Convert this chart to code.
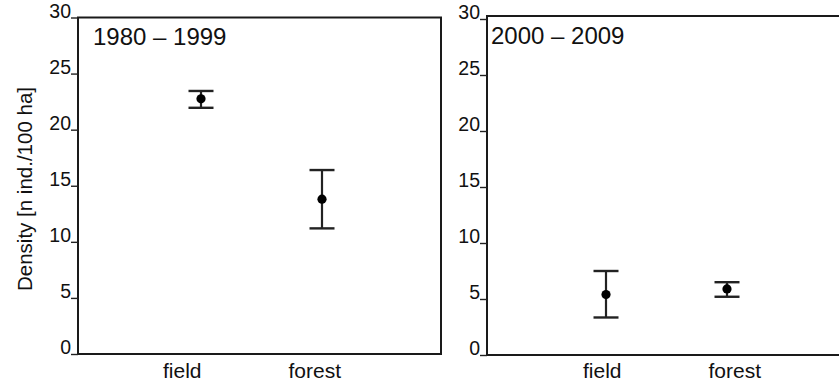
<!DOCTYPE html>
<html>
<head>
<meta charset="utf-8">
<script src="https://cdn.jsdelivr.net/npm/d3@7"></script>
<style>
  body { margin: 0; background: #fff; }
  text { font-family: "Liberation Sans", Arial, sans-serif; fill: #111; }
</style>
</head>
<body>
<div id="chart"></div>
<script>
// data
var categories = ["field", "forest"];
var periods = ["1980 \u2013 1999", "2000 \u2013 2009"];
var yTicks = [0, 5, 10, 15, 20, 25, 30];

// mean, upper and lower ends of the error bars, per period
var means1980 = [22.75, 13.8];
var upper1980 = [23.45, 16.4];
var lower1980 = [21.95, 11.2];

var means2000 = [5.4, 5.9];
var upper2000 = [7.5, 6.5];
var lower2000 = [3.35, 5.2];

var width = 839;
var height = 383;
var capHalf = 12.5;

// panel layout
var panels = [
  { title: periods[0], means: means1980, upper: upper1980, lower: lower1980,
    left: 78, right: 441, bottom: 354, top: 17.5, frameTop: 17.5,
    titleDx: 15, titleY: 45, barShift: 2, labelShift: -11, yLabel: true },
  { title: periods[1], means: means2000, upper: upper2000, lower: lower2000,
    left: 487, right: 850, bottom: 355, top: 19, frameTop: 16,
    titleDx: 4, titleY: 44, barShift: -2, labelShift: 0, yLabel: false }
];

var svg = d3
  .select("#chart")
  .append("svg")
  .attr("width", width)
  .attr("height", height);

panels.forEach(function(p) {
  var g = svg.append("g");

  var y_scale = d3
    .scaleLinear()
    .domain([0, 30])
    .range([p.bottom, p.top]);

  var x_scale = d3
    .scalePoint()
    .domain(categories)
    .range([p.left + p.barShift, p.right + p.barShift])
    .padding(1);

  var label_scale = d3
    .scalePoint()
    .domain(categories)
    .range([p.left + p.labelShift, p.right + p.labelShift])
    .padding(0.87);

  // frame
  g.append("rect")
    .attr("x", p.left)
    .attr("y", p.frameTop)
    .attr("width", p.right - p.left)
    .attr("height", p.bottom - p.frameTop)
    .attr("fill", "none")
    .attr("stroke", "#1a1a1a")
    .attr("stroke-width", 2);

  // y axis
  var y_axis = d3
    .axisLeft(y_scale)
    .tickValues(yTicks)
    .tickSize(7)
    .tickPadding(0);
  var ax = g
    .append("g")
    .attr("transform", "translate(" + p.left + ",0)")
    .call(y_axis);
  ax.select(".domain").remove();
  ax.selectAll(".tick line").attr("stroke", "#222").attr("stroke-width", 1.4);
  ax.selectAll(".tick text")
    .attr("dy", "-0.02em")
    .style("font-size", "19.5px")
    .style("font-family", "'Liberation Sans', Arial, sans-serif")
    .attr("fill", "#111");

  // category labels
  g.selectAll(".cat")
    .data(categories)
    .enter()
    .append("text")
    .attr("class", "cat")
    .attr("x", function(d) { return label_scale(d); })
    .attr("y", 378)
    .attr("text-anchor", "middle")
    .style("font-size", "21px")
    .text(function(d) { return d; });

  // period title
  g.append("text")
    .attr("x", p.left + p.titleDx)
    .attr("y", p.titleY)
    .style("font-size", "24px")
    .text(p.title);

  // error bars
  var bars = g
    .selectAll(".err")
    .data(categories)
    .enter()
    .append("g")
    .attr("class", "err");

  bars.append("line")
    .attr("x1", function(d) { return x_scale(d); })
    .attr("x2", function(d) { return x_scale(d); })
    .attr("y1", function(d, i) { return y_scale(p.upper[i]); })
    .attr("y2", function(d, i) { return y_scale(p.lower[i]); })
    .attr("stroke", "#222")
    .attr("stroke-width", 2.2);

  [p.upper, p.lower].forEach(function(arr) {
    bars.append("line")
      .attr("x1", function(d) { return x_scale(d) - capHalf; })
      .attr("x2", function(d) { return x_scale(d) + capHalf; })
      .attr("y1", function(d, i) { return y_scale(arr[i]); })
      .attr("y2", function(d, i) { return y_scale(arr[i]); })
      .attr("stroke", "#222")
      .attr("stroke-width", 2.4);
  });

  bars.append("circle")
    .attr("cx", function(d) { return x_scale(d); })
    .attr("cy", function(d, i) { return y_scale(p.means[i]); })
    .attr("r", 4.6)
    .attr("fill", "#000");

  if (p.yLabel) {
    svg.append("text")
      .attr("transform", "translate(32," + 189 + ") rotate(-90)")
      .attr("text-anchor", "middle")
      .style("font-size", "20.5px")
      .text("Density [n ind./100 ha]");
  }
});
</script>
</body>
</html>
